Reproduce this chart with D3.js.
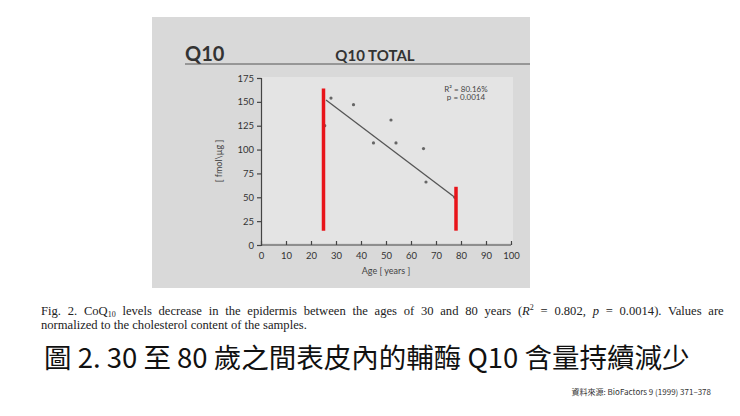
<!DOCTYPE html>
<html><head><meta charset="utf-8">
<script src="https://cdn.jsdelivr.net/npm/d3@7"></script>
<style>body{margin:0;background:#fff}</style>
</head><body>
<svg id="c" width="740" height="416"></svg>
<script>
// data
const ages = [25.5, 28, 37, 45, 52, 54, 65, 66, 77.5];
const levels = [125, 154, 147, 107, 131, 107, 101, 66, 50];
const fitLine = [[26, 152], [78, 49]];
const redBars = [[25, 15, 164], [78, 15, 61]];
const xTicks = [0, 10, 20, 30, 40, 50, 60, 70, 80, 90, 100];
const yTicks = [0, 25, 50, 75, 100, 125, 150, 175];

const svg = d3.select("#c");
const font = "'Lato', 'Open Sans', sans-serif";

svg.append("rect").attr("x", 152).attr("y", 17).attr("width", 378).attr("height", 271).attr("fill", "#d9d9d9");
svg.append("rect").attr("x", 262).attr("y", 77).attr("width", 251).attr("height", 166).attr("fill", "#e4e4e4");

svg.append("text").attr("x", 185).attr("y", 61).attr("font-family", font).attr("font-weight", 700)
  .attr("font-size", 20).attr("fill", "#333").text("Q10");
svg.append("text").attr("x", 375).attr("y", 61).attr("text-anchor", "middle").attr("font-family", font)
  .attr("font-weight", 700).attr("font-size", 15).attr("fill", "#333").text("Q10 TOTAL");
svg.append("line").attr("x1", 185).attr("x2", 530).attr("y1", 64).attr("y2", 64).attr("stroke", "#555");

const x = d3.scaleLinear().domain([0, 100]).range([261, 511]);
const y = d3.scaleLinear().domain([0, 175]).range([245, 78]);

const ax = svg.append("g").attr("transform", "translate(0,245)")
  .call(d3.axisBottom(x).tickValues(xTicks).tickSize(-4).tickPadding(7));
const ay = svg.append("g").attr("transform", "translate(261,0)")
  .call(d3.axisLeft(y).tickValues(yTicks).tickSize(4).tickPadding(3));
[ax, ay].forEach(a => {
  a.selectAll("path,line").attr("stroke", "#444").attr("stroke-width", 1.2);
  a.selectAll("text").attr("font-family", font).attr("font-size", 9.5).attr("fill", "#333");
});
ax.select(".domain").attr("d", "M261,0H511");

svg.append("text").attr("x", 386).attr("y", 274).attr("text-anchor", "middle").attr("font-family", font)
  .attr("font-size", 9).attr("fill", "#444").text("Age [ years ]");
svg.append("text").attr("transform", "translate(222,161) rotate(-90)").attr("text-anchor", "middle")
  .attr("font-family", font).attr("font-size", 9).attr("fill", "#444").text("[ fmol\\µg ]");

svg.append("text").attr("x", 466).attr("y", 92).attr("text-anchor", "middle").attr("font-family", font)
  .attr("font-size", 8).attr("fill", "#444").text("R² = 80.16%");
svg.append("text").attr("x", 466).attr("y", 100).attr("text-anchor", "middle").attr("font-family", font)
  .attr("font-size", 8).attr("fill", "#444").text("p = 0.0014");

svg.append("line").attr("x1", x(fitLine[0][0])).attr("y1", y(fitLine[0][1]))
  .attr("x2", x(fitLine[1][0])).attr("y2", y(fitLine[1][1])).attr("stroke", "#555").attr("stroke-width", 1.3);

svg.selectAll(".pt").data(ages).join("circle").attr("class", "pt")
  .attr("cx", d => x(d)).attr("cy", (d, i) => y(levels[i])).attr("r", 1.6).attr("fill", "#666");

svg.selectAll(".rb").data(redBars).join("line").attr("class", "rb")
  .attr("x1", d => x(d[0])).attr("x2", d => x(d[0]))
  .attr("y1", d => y(d[1])).attr("y2", d => y(d[2]))
  .attr("stroke", "#e8141a").attr("stroke-width", 3.5);

const serif = "'Liberation Serif', 'DejaVu Serif', serif";
const cap1 = svg.append("text").attr("x", 41).attr("y", 315).attr("font-family", serif).attr("font-size", 12.6)
  .attr("word-spacing", 3.6).attr("fill", "#222");
cap1.append("tspan").text("Fig. 2. CoQ");
cap1.append("tspan").attr("font-size", 8).attr("dy", 2).text("10");
cap1.append("tspan").attr("dy", -2).text(" levels decrease in the epidermis between the ages of 30 and 80 years (");
cap1.append("tspan").attr("font-style", "italic").text("R");
cap1.append("tspan").attr("font-size", 8).attr("dy", -5).text("2");
cap1.append("tspan").attr("dy", 5).text(" = 0.802, ");
cap1.append("tspan").attr("font-style", "italic").text("p");
cap1.append("tspan").text(" = 0.0014). Values are");
svg.append("text").attr("x", 41).attr("y", 329).attr("font-family", serif).attr("font-size", 12.6)
  .attr("fill", "#222").text("normalized to the cholesterol content of the samples.");

svg.append("text").attr("x", 44).attr("y", 368).attr("font-family", "'Noto Sans CJK TC', sans-serif")
  .attr("font-size", 27.5).attr("fill", "#111").text("圖 2. 30 至 80 歲之間表皮內的輔酶 Q10 含量持續減少");
svg.append("text").attr("x", 711).attr("y", 395).attr("text-anchor", "end").attr("font-family", "'Noto Sans CJK TC', sans-serif")
  .attr("font-size", 8).attr("fill", "#333").text("資料來源: BioFactors 9 (1999) 371–378");
</script>
</body></html>
